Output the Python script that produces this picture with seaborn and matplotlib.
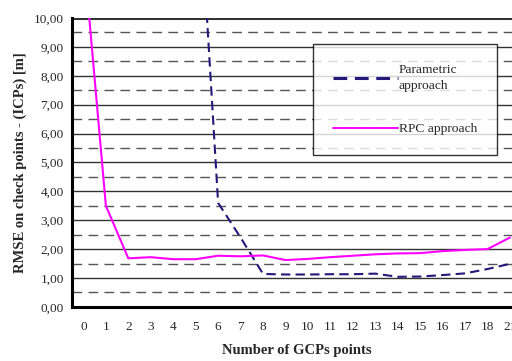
import numpy as np
import pandas as pd
import matplotlib
matplotlib.use('Agg')
import matplotlib.pyplot as plt
import seaborn as sns

# data
gcp_labels = ['0', '1', '2', '3', '4', '5', '6', '7', '8', '9', '10',
              '11', '12', '13', '14', '15', '16', '17', '18', '21']
rpc_rmse = [12.3, 3.5, 1.68, 1.72, 1.65, 1.65, 1.77, 1.75, 1.78, 1.62,
            1.66, 1.72, 1.77, 1.82, 1.85, 1.86, 1.93, 1.97, 2.0, 2.4]
param_labels = ['5', '6', '7', '8', '9', '10', '11', '12', '13', '14',
                '15', '16', '17', '18', '21']
param_rmse = [16.5, 3.6, 2.4, 1.14, 1.12, 1.12, 1.13, 1.13, 1.15, 1.04,
              1.05, 1.1, 1.16, 1.31, 1.49]

pos = {lab: i for i, lab in enumerate(gcp_labels)}
df = pd.concat([
    pd.DataFrame({'x': [pos[l] for l in param_labels], 'rmse': param_rmse,
                  'series': 'Parametric\napproach'}),
    pd.DataFrame({'x': [pos[l] for l in gcp_labels], 'rmse': rpc_rmse,
                  'series': 'RPC approach'}),
])

sns.set_style('white')
plt.rcParams['font.family'] = ['Liberation Serif', 'DejaVu Serif']

fig = plt.figure(figsize=(5.12, 3.61), dpi=100)
ax = fig.add_axes([0.141, 0.150, 0.877, 0.800])

# grid: solid at whole metres, dashed at halves
for v in np.arange(1, 11, 1):
    ax.axhline(v, color='#333333', lw=2.2 if v == 10 else 1.0, zorder=1)
for v in np.arange(0.5, 10, 1):
    ax.axhline(v, color='#555555', lw=1.0, ls=(0, (7, 4.5)), zorder=1)

sns.lineplot(data=df, x='x', y='rmse', hue='series', style='series',
             palette={'Parametric\napproach': '#24187a', 'RPC approach': '#ff00ff'},
             dashes={'Parametric\napproach': (4.5, 2.5), 'RPC approach': ''},
             ax=ax, zorder=3)
for line, lw in zip(ax.get_lines()[-2:], [2.2, 1.4]):
    line.set_linewidth(lw)

ax.set_xlim(-0.5, len(gcp_labels) - 0.5)
ax.set_ylim(0, 10)
ax.set_yticks(np.arange(0, 11, 1))
ax.set_yticklabels([f'{v:.2f}'.replace('.', ',') for v in np.arange(0, 11, 1)],
                   fontsize=9.5)
ax.set_xticks(np.arange(-0.5, len(gcp_labels), 1))
ax.set_xticklabels([])
ax.set_xticks(np.arange(len(gcp_labels)), minor=True)
ax.set_xticklabels(gcp_labels, minor=True, fontsize=9.5)
ax.tick_params(axis='x', which='major', direction='out', length=4, width=1, color='black')
ax.tick_params(axis='x', which='minor', length=0, pad=10)
ax.tick_params(axis='y', direction='out', length=4, width=1, color='black', pad=2)

for s in ['top', 'right']:
    ax.spines[s].set_visible(False)
for s in ['left', 'bottom']:
    ax.spines[s].set_color('black')
    ax.spines[s].set_linewidth(2.2)

ax.set_xlabel('Number of GCPs points', fontsize=10.5, fontweight='bold', labelpad=8)
ax.set_ylabel('RMSE on check points - (ICPs) [m]', fontsize=10.5, fontweight='bold', labelpad=5)

leg = ax.legend(title=None, loc='upper left', bbox_to_anchor=(0.537, 0.91),
                frameon=True, fancybox=False, edgecolor='black', fontsize=9.7,
                handlelength=4.8, handletextpad=0.1, labelspacing=2.3,
                borderpad=1.45, borderaxespad=0)
leg.get_frame().set_linewidth(1.0)
leg.set_zorder(5)
for t in leg.get_texts():
    t.set_linespacing(1.5)

fig.savefig('out.png', dpi=100)
